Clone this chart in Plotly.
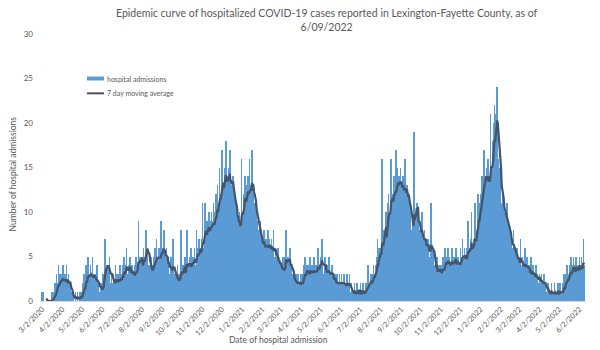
import datetime as dt
import pandas as pd
import plotly.graph_objects as go

# ---------------- data (daily hospital admissions) ----------------
start_date = "2020-03-02"

mar_2020 = [1,0,1,0,0,0,0,0,0,0, 0,0,0,0,0,1,0,0,1,2, 0,1,3,1,2,4,1,3,2,2]
apr_2020 = [3,2,4,1,2,3,1,4,2,1, 3,2,1,2,0,1,0,0,1,0, 0,1,0,0,1,0,0,1,0,1]
may_2020 = [0,1,2,1,3,2,1,4,2,3, 5,2,3,1,4,3,2,5,1,3, 2,3,1,2,4,1,2,1,0,2, 1]
jun_2020 = [2,1,3,2,5,7,3,4,2,4, 3,4,5,2,1,3,2,2,3,1, 2,4,1,3,2,2,3,1,4,2]
jul_2020 = [3,2,4,3,5,2,3,4,6,3, 2,4,3,5,3,2,4,3,2,3, 4,2,5,3,4,3,9,4,3,5, 4]
aug_2020 = [4,5,3,6,5,4,7,8,5,6, 4,3,4,2,5,3,4,3,5,4, 6,5,4,7,3,5,4,6,5,4, 9]
sep_2020 = [5,4,6,8,3,5,4,6,3,5, 4,3,2,4,5,3,3,7,2,3, 2,1,3,2,4,2,3,1,2,8]
oct_2020 = [3,2,4,3,2,5,3,4,8,2, 3,4,5,3,4,6,3,5,4,5, 6,4,3,8,5,6,4,7,5,6, 5]
nov_2020 = [7,11,5,6,8,11,7,6,9,8, 7,10,8,9,6,10,9,8,11,7, 10,9,12,10,13,9,11,15,10,12]
dec_2020 = [14,17,12,13,11,15,13,18,12,14, 11,13,15,17,12,13,11,12,14,10, 12,9,11,8,10,7,9,8,10,7, 9]
jan_2021 = [16,10,8,11,12,14,10,13,12,11, 14,10,16,12,13,11,17,12,10,11, 9,12,8,10,9,7,8,6,9,5, 7]
feb_2021 = [6,5,7,8,6,4,7,6,5,8, 6,7,5,6,4,7,5,6,8,5, 4,6,3,5,4,6,3,5]
mar_2021 = [3,4,2,3,5,4,3,5,4,8, 3,4,5,3,4,6,3,4,2,3, 2,3,1,2,3,2,1,3,2,2, 1]
apr_2021 = [2,3,1,3,2,4,3,5,2,3, 4,3,2,4,3,5,2,3,4,2, 3,5,4,2,3,4,3,6,4,3]
may_2021 = [4,5,3,7,4,3,2,4,5,3, 2,4,3,2,5,3,2,3,4,2, 3,1,2,3,2,1,3,2,1,2, 3]
jun_2021 = [2,1,3,2,1,2,3,1,2,1, 3,2,2,1,3,1,0,2,1,1, 0,1,2,1,0,1,2,1,1,0]
jul_2021 = [1,2,1,0,1,2,1,0,1,2, 1,1,4,1,2,1,3,2,3,2, 3,4,2,3,4,3,5,7,4,6, 5]
aug_2021 = [4,6,5,16,2,6,8,7,9,10, 8,11,9,12,10,8,13,16,10,12, 9,14,11,13,17,10,15,13,12,14, 13]
sep_2021 = [15,12,13,10,14,12,11,16,12,10, 13,11,9,12,10,11,8,7,6,9, 8,19,7,10,9,11,8,10,7,8]
oct_2021 = [8,6,7,10,5,7,6,8,5,7, 6,5,7,6,4,5,6,11,4,5, 6,3,4,2,4,3,5,2,4,3, 4]
nov_2021 = [3,4,2,3,5,4,3,6,4,5, 3,4,6,3,5,4,3,4,6,5, 3,4,5,4,6,3,4,5,3,4]
dec_2021 = [4,6,5,4,7,5,3,6,4,5, 6,4,9,5,6,4,7,5,10,4, 6,7,5,11,6,8,7,9,12,10, 11]
jan_2022 = [10,12,9,14,13,15,17,12,14,13, 11,15,16,13,14,12,21,15,14,17, 18,20,22,19,21,18,24,16,14,13, 15]
feb_2022 = [12,11,10,13,9,11,8,10,9,7, 11,8,9,7,6,8,5,7,6,5, 8,4,6,5,3,6,4,5]
mar_2022 = [5,3,4,7,3,4,5,2,4,3, 6,4,3,5,2,3,4,2,3,5, 2,3,4,2,3,1,4,3,2,3, 2]
apr_2022 = [2,3,1,2,3,2,1,2,3,1, 2,1,0,1,2,1,0,1,1,2, 0,1,1,0,2,1,1,0,1,2]
may_2022 = [1,0,2,1,0,1,2,1,3,2, 1,3,2,4,2,3,2,4,3,5, 2,4,3,5,4,3,2,5,4,3, 4]
jun_2022 = [3,5,4,2,5,3,4,7,4]

tick_labels = ["3/2/2020", "4/2/2020", "5/2/2020", "6/2/2020", "7/2/2020", "8/2/2020",
               "9/2/2020", "10/2/2020", "11/2/2020", "12/2/2020", "1/2/2021", "2/2/2021",
               "3/2/2021", "4/2/2021", "5/2/2021", "6/2/2021", "7/2/2021", "8/2/2021",
               "9/2/2021", "10/2/2021", "11/2/2021", "12/2/2021", "1/2/2022", "2/2/2022",
               "3/2/2022", "4/2/2022", "5/2/2022", "6/2/2022"]

title_text = ("Epidemic curve of hospitalized COVID-19 cases reported in Lexington-Fayette County, as of"
              "<br>6/09/2022")
bar_name = "hospital admissions"
line_name = "7 day moving average"
y_title = "Number of hospital admissions"
x_title = "Date of hospital admission"

# ---------------- build ----------------
months = [mar_2020, apr_2020, may_2020, jun_2020, jul_2020, aug_2020, sep_2020, oct_2020,
          nov_2020, dec_2020, jan_2021, feb_2021, mar_2021, apr_2021, may_2021, jun_2021,
          jul_2021, aug_2021, sep_2021, oct_2021, nov_2021, dec_2021, jan_2022, feb_2022,
          mar_2022, apr_2022, may_2022, jun_2022]
admissions = [v for m in months for v in m]
dates = pd.date_range(start_date, periods=len(admissions), freq="D")
ma7 = pd.Series(admissions).rolling(7).mean()
tick_vals = [dt.datetime.strptime(t, "%m/%d/%Y") for t in tick_labels]

GREY = "#595959"
FONT = "Lato"

fig = go.Figure()
fig.add_trace(go.Bar(x=dates, y=admissions, name=bar_name,
                     marker=dict(color="#5B9BD5", line=dict(width=0)), showlegend=False))
fig.add_trace(go.Scatter(x=dates, y=ma7, name=line_name, mode="lines",
                         line=dict(color="#44546A", width=2.2), showlegend=False))

# plot area in pixels: x 40..586, y 34..304
L, R, T, B = 40, 14, 34, 46
W, H = 600, 350
pw, ph = W - L - R, H - T - B


def px(xp):
    return (xp - L) / pw


def py(yp):
    return (H - B - yp) / ph


fig.update_layout(
    width=W, height=H,
    margin=dict(l=L, r=R, t=T, b=B),
    paper_bgcolor="white", plot_bgcolor="white",
    bargap=0,
    showlegend=False,
    font=dict(family=FONT, color=GREY),
    xaxis=dict(type="date", range=["2020-02-27 12:00", "2022-06-12"],
               tickvals=tick_vals, ticktext=tick_labels, tickangle=-45,
               tickfont=dict(size=7.5, color=GREY), showgrid=False, zeroline=False,
               showline=True, linecolor="#D9D9D9", linewidth=1, ticks=""),
    yaxis=dict(range=[0, 30], dtick=5, tick0=0, showgrid=False, zeroline=False,
               showline=False, tickfont=dict(size=8, color=GREY), ticklabelstandoff=6),
)

annotations = [
    dict(text=title_text, x=px(327), y=py(20), xref="paper", yref="paper",
         showarrow=False, font=dict(size=10.5, color=GREY, family=FONT),
         xanchor="center", yanchor="middle", align="center"),
    dict(text=y_title, textangle=-90, x=px(13), y=py(176), xref="paper", yref="paper",
         showarrow=False, font=dict(size=8.5, color=GREY, family=FONT),
         xanchor="center", yanchor="middle"),
    dict(text=x_title, x=px(278), y=py(343), xref="paper", yref="paper",
         showarrow=False, font=dict(size=8.5, color=GREY, family=FONT),
         xanchor="center", yanchor="middle"),
    dict(text=bar_name, x=px(105), y=py(79), xref="paper", yref="paper",
         showarrow=False, font=dict(size=7, color=GREY, family=FONT),
         xanchor="left", yanchor="middle"),
    dict(text=line_name, x=px(105), y=py(94), xref="paper", yref="paper",
         showarrow=False, font=dict(size=7, color=GREY, family=FONT),
         xanchor="left", yanchor="middle"),
]
shapes = [
    dict(type="rect", xref="paper", yref="paper", x0=px(87), x1=px(104), y0=py(77), y1=py(81),
         fillcolor="#5B9BD5", line=dict(width=0)),
    dict(type="line", xref="paper", yref="paper", x0=px(87), x1=px(104), y0=py(94), y1=py(94),
         line=dict(color="#44546A", width=2)),
]
fig.update_layout(annotations=annotations, shapes=shapes)

fig.write_html("out.html")
